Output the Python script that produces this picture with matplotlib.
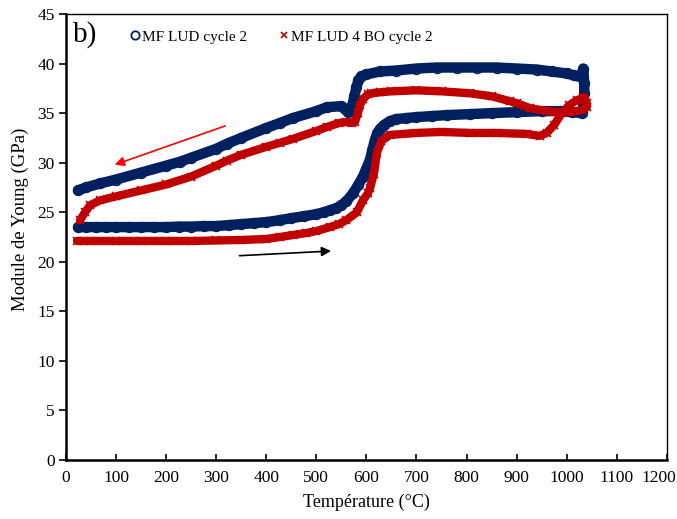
import numpy as np
import matplotlib
matplotlib.use("Agg")
import matplotlib.pyplot as plt
from matplotlib.lines import Line2D

plt.rcParams["font.family"] = ["Liberation Serif", "DejaVu Serif"]

# MF LUD cycle 2 : heating then cooling (T in degC, E in GPa)
blue_heat_T = [24, 40, 60, 80, 100, 125, 150, 175, 200, 225, 250, 275, 300, 325,
               350, 375, 400, 427, 450, 475, 500, 515, 527, 540, 550, 560, 573,
               583, 593, 600, 607, 612, 617, 622, 627, 635, 647, 660, 680, 700,
               730, 760, 807, 850, 900, 950, 986, 1010, 1030]
blue_heat_E = [23.5, 23.5, 23.5, 23.5, 23.5, 23.5, 23.5, 23.5, 23.5, 23.55, 23.55,
               23.6, 23.6, 23.7, 23.8, 23.9, 24.0, 24.2, 24.4, 24.6, 24.8, 25.0,
               25.2, 25.4, 25.7, 26.1, 26.9, 27.7, 28.6, 29.4, 30.3, 31.3, 32.3,
               33.0, 33.4, 33.8, 34.2, 34.4, 34.5, 34.6, 34.7, 34.8, 34.9, 35.0,
               35.1, 35.2, 35.2, 35.1, 35.0]
blue_cool_T = [1034, 1035, 1035, 1033, 1030, 1015, 1000, 970, 940, 900, 860, 820,
               780, 740, 700, 660, 627, 600, 590, 584, 580, 576, 572, 568, 563,
               558, 550, 521, 500, 453, 427, 400, 350, 321, 300, 250, 228, 200,
               150, 100, 68, 40, 24]
blue_cool_E = [36.0, 37.0, 38.0, 39.5, 38.6, 38.8, 39.0, 39.2, 39.4, 39.5, 39.6,
               39.6, 39.6, 39.6, 39.5, 39.3, 39.2, 38.9, 38.7, 38.3, 37.6, 36.7,
               35.8, 35.2, 35.1, 35.4, 35.7, 35.6, 35.2, 34.5, 34.0, 33.5, 32.5,
               31.9, 31.4, 30.5, 30.1, 29.7, 29.0, 28.3, 27.9, 27.5, 27.2]

# MF LUD 4 BO cycle 2
red_heat_T = [22, 50, 100, 150, 200, 250, 300, 350, 400, 427, 453, 480, 500, 527,
              545, 560, 581, 593, 603, 607, 615, 621, 630, 647, 700, 750, 807,
              860, 920, 946, 960, 975, 990, 1005, 1020, 1035, 1040]
red_heat_E = [22.1, 22.1, 22.1, 22.1, 22.1, 22.1, 22.15, 22.2, 22.3, 22.5, 22.7,
              22.9, 23.1, 23.5, 23.8, 24.2, 25.0, 26.2, 26.9, 27.4, 28.9, 31.0,
              32.2, 32.8, 33.0, 33.1, 33.0, 33.0, 32.9, 32.7, 33.0, 33.8, 35.0,
              35.8, 36.3, 36.6, 36.0]
red_cool_T = [1040, 1030, 1020, 1000, 986, 960, 927, 900, 887, 850, 807, 750,
              700, 650, 627, 610, 603, 593, 587, 583, 577, 571, 560, 545, 521,
              500, 453, 427, 400, 350, 321, 300, 250, 200, 150, 100, 68, 48, 38, 28]
red_cool_E = [35.6, 35.3, 35.2, 35.1, 35.1, 35.2, 35.5, 36.0, 36.2, 36.7, 37.0,
              37.2, 37.3, 37.2, 37.1, 37.0, 36.9, 36.4, 35.8, 35.0, 34.1, 34.0,
              34.1, 34.0, 33.6, 33.2, 32.4, 32.0, 31.6, 30.8, 30.2, 29.7, 28.6,
              27.8, 27.2, 26.6, 26.2, 25.7, 25.0, 24.2]

xticks = np.arange(0, 1201, 100)
yticks = np.arange(0, 46, 5)

navy = "#002060"
red = "#C00000"

fig = plt.figure(figsize=(6.77, 5.19), dpi=100)
ax = fig.add_axes([0.0975, 0.1137, 0.8875, 0.8593])

blue_T = blue_heat_T + blue_cool_T
blue_E = blue_heat_E + blue_cool_E
red_T = red_heat_T + red_cool_T
red_E = red_heat_E + red_cool_E

ax.plot(blue_T, blue_E, color=navy, lw=7.5, solid_capstyle="round",
        solid_joinstyle="round", zorder=2)
ax.plot(blue_T, blue_E, ls="none", marker="o", ms=7, mfc="none", mec=navy,
        mew=1.2, zorder=3)
ax.plot(red_T, red_E, color=red, lw=6, solid_capstyle="round",
        solid_joinstyle="round", zorder=4)
ax.plot(red_T, red_E, ls="none", marker="x", ms=6, mec=red, mew=1.2, zorder=5)

# arrows showing heating / cooling direction
ax.annotate("", xy=(92, 29.7), xytext=(323, 33.8),
            arrowprops=dict(arrowstyle="-|>", color="#FF0000", lw=1.2,
                            mutation_scale=14))
ax.annotate("", xy=(535, 21.1), xytext=(341, 20.6),
            arrowprops=dict(arrowstyle="-|>", color="black", lw=1.2,
                            mutation_scale=14))

ax.text(0.012, 0.985, "b)", transform=ax.transAxes, fontsize=21,
        ha="left", va="top")

handles = [Line2D([], [], ls="none", marker="o", ms=6, mfc="none", mec=navy, mew=1.3),
           Line2D([], [], ls="none", marker="x", ms=5, mec=red, mew=1.2)]
ax.legend(handles, ["MF LUD cycle 2", "MF LUD 4 BO cycle 2"], ncol=2,
          loc="upper left", bbox_to_anchor=(0.085, 0.995), frameon=False,
          fontsize=11, handlelength=0.6, handletextpad=0.15, columnspacing=2.1)

ax.set_xlim(0, 1200)
ax.set_ylim(0, 45)
ax.set_xticks(xticks)
ax.set_yticks(yticks)
# last label is drawn a little to the left so it stays inside the figure
ax.set_xticklabels([str(v) for v in xticks[:-1]] + [""])
ax.annotate(str(xticks[-1]), xy=(1, 0), xycoords="axes fraction",
            xytext=(-6, -7), textcoords="offset points", ha="center",
            va="top", fontsize=12.5)
ax.tick_params(axis="x", direction="in", length=4, width=1.2, labelsize=12.5, pad=7)
ax.tick_params(axis="y", direction="out", length=5, width=1.2, labelsize=12.5, pad=3)
ax.set_xlabel("Température (°C)", fontsize=13, labelpad=6)
ax.set_ylabel("Module de Young (GPa)", fontsize=13.5)
ax.yaxis.set_label_coords(-0.062, 0.54)

for s in ["left", "bottom"]:
    ax.spines[s].set_linewidth(1.8)
for s in ["top", "right"]:
    ax.spines[s].set_linewidth(1.0)

fig.savefig("out.png", dpi=100)
